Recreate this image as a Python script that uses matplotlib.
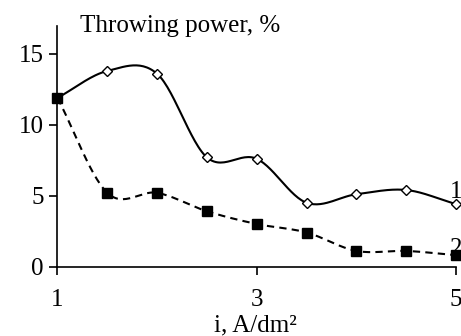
import matplotlib
matplotlib.use("Agg")
import matplotlib.pyplot as plt
import numpy as np

# current density, A/dm2
current = [1, 1.5, 2, 2.5, 3, 3.5, 4, 4.5, 5]
# throwing power, %
tp_1 = [11.9, 13.8, 13.6, 7.7, 7.6, 4.5, 5.1, 5.4, 4.4]
tp_2 = [11.9, 5.2, 5.2, 3.9, 3.0, 2.4, 1.1, 1.1, 0.8]

x_ticks = [1, 3, 5]
y_ticks = [0, 5, 10, 15]

plt.rcParams['font.family'] = ['Liberation Serif', 'DejaVu Serif']


def smooth(xs, ys, n=30):
    # Catmull-Rom curve through the points, like Excel's smoothed line
    xs = np.asarray(xs, float)
    ys = np.asarray(ys, float)
    px = np.concatenate([[2 * xs[0] - xs[1]], xs, [2 * xs[-1] - xs[-2]]])
    py = np.concatenate([[2 * ys[0] - ys[1]], ys, [2 * ys[-1] - ys[-2]]])
    out_x, out_y = [], []
    t = np.linspace(0, 1, n)
    for i in range(1, len(px) - 2):
        for p, out in ((px, out_x), (py, out_y)):
            p0, p1, p2, p3 = p[i - 1], p[i], p[i + 1], p[i + 2]
            out.extend(0.5 * ((2 * p1) + (-p0 + p2) * t
                              + (2 * p0 - 5 * p1 + 4 * p2 - p3) * t ** 2
                              + (-p0 + 3 * p1 - 3 * p2 + p3) * t ** 3))
    return out_x, out_y


fig = plt.figure(figsize=(4.61, 3.36), dpi=100)
ax = fig.add_axes([0.1247, 0.2068, 0.8753, 0.717])

sx, sy = smooth(current, tp_1)
ax.plot(sx, sy, color='black', lw=1.5, clip_on=False)
ax.plot(current, tp_1, ls='none', marker='D', ms=5, mfc='white',
        mec='black', mew=1.0, clip_on=False, zorder=3)

sx, sy = smooth(current, tp_2)
ax.plot(sx, sy, color='black', lw=1.5, ls=(0, (3.5, 2.5)), clip_on=False)
ax.plot(current, tp_2, ls='none', marker='s', ms=7, color='black',
        clip_on=False, zorder=3)

ax.set_xlim(1, 5.05)
ax.set_ylim(0, 17)
ax.set_xticks(x_ticks)
ax.set_yticks(y_ticks)
ax.tick_params(labelsize=18, length=6, width=1.2, direction='out', pad=4)
ax.tick_params(axis='x', pad=10)
for s in ['top', 'right']:
    ax.spines[s].set_visible(False)
for s in ['left', 'bottom']:
    ax.spines[s].set_linewidth(1.2)
ax.spines['bottom'].set_bounds(1, 5)

ax.text(0.057, 1.0, 'Throwing power, %', transform=ax.transAxes,
        fontsize=18, va='center', ha='left')
ax.text(4.94, 4.5, '1', fontsize=18, ha='left', va='bottom')
ax.text(4.94, 0.45, '2', fontsize=18, ha='left', va='bottom')
fig.text(0.555, 0.03, 'i, A/dm²', fontsize=18, ha='center', va='center')

fig.savefig('out.png', dpi=100)
